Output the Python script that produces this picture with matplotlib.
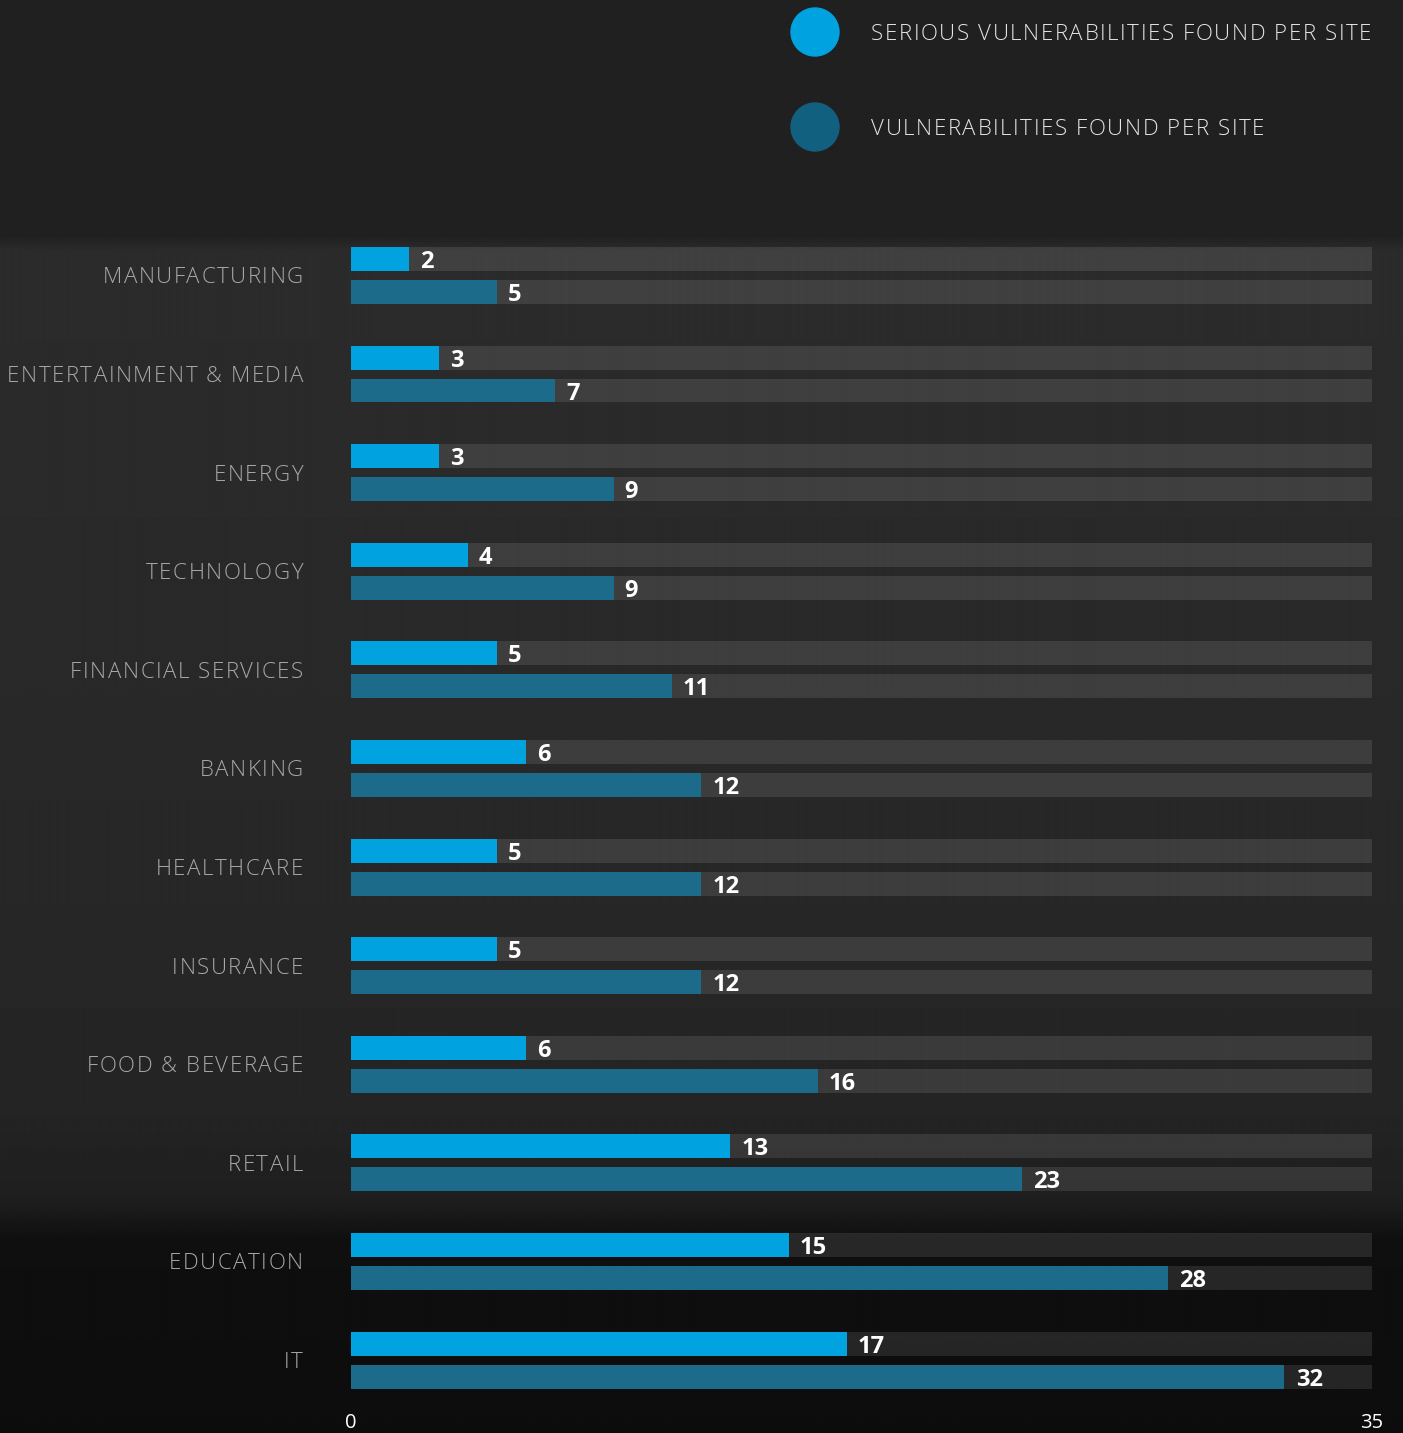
import numpy as np
import matplotlib.pyplot as plt
from matplotlib.patches import Ellipse
from matplotlib.font_manager import FontProperties, findfont
from matplotlib.ft2font import FT2Font
from matplotlib.transforms import IdentityTransform

categories = ["MANUFACTURING", "ENTERTAINMENT & MEDIA", "ENERGY", "TECHNOLOGY",
              "FINANCIAL SERVICES", "BANKING", "HEALTHCARE", "INSURANCE",
              "FOOD & BEVERAGE", "RETAIL", "EDUCATION", "IT"]
serious = [2, 3, 3, 4, 5, 6, 5, 5, 6, 13, 15, 17]
total = [5, 7, 9, 9, 11, 12, 12, 12, 16, 23, 28, 32]
xmax = 35

c_serious = "#00a2e0"
c_total = "#1c6b8b"
W, H = 1403, 1433
DPI = 100

plt.rcParams['font.family'] = ['Open Sans', 'DejaVu Sans']

fig = plt.figure(figsize=(W / DPI, H / DPI), dpi=DPI)
fig.patch.set_facecolor("#202020")


def spaced_text(x, ymid, s, size, color, track, ha="left", weight="light"):
    """Draw s one glyph at a time (pixel coords from top-left) with extra letter spacing."""
    prop = FontProperties(family="Open Sans", weight=weight, size=size)
    font = FT2Font(findfont(prop))
    font.set_size(size, DPI)
    adv = [font.load_char(ord(c)).linearHoriAdvance / 65536 for c in s]
    width = sum(adv) + track * (len(s) - 1)
    px = x - width if ha == "right" else x
    base = H - (ymid + 0.357 * size * DPI / 72)
    for c, a in zip(s, adv):
        if c != " ":
            fig.text(px, base, c, fontproperties=prop, color=color,
                     va="baseline", ha="left", transform=IdentityTransform())
        px += a + track


# dark backdrop, lighter in the middle and fading to near black at the bottom
bg = fig.add_axes([0, 0, 1, 1], zorder=-5)
rows = np.arange(H)
shade = np.interp(rows, [0, 235, 250, 700, 1100, 1200, 1240, 1433],
                  [0.125, 0.125, 0.17, 0.16, 0.145, 0.12, 0.06, 0.05])
bg.imshow(np.repeat(shade[:, None], 8, axis=1), cmap="gray", vmin=0, vmax=1,
          aspect="auto", extent=[0, 1, 0, 1], interpolation="bilinear")
bg.set_axis_off()

# main bars
top_px, bot_px = 236, 1404.5
ax = fig.add_axes([351 / W, 1 - bot_px / H, 1021 / W, (bot_px - top_px) / H])
ax.set_facecolor("none")
y = np.arange(len(categories))
off, h = 0.167, 0.243
ax.barh(y - off, [xmax] * len(y), height=h, color="white", alpha=0.1, lw=0)
ax.barh(y + off, [xmax] * len(y), height=h, color="white", alpha=0.1, lw=0)
ax.barh(y - off, serious, height=h, color=c_serious, lw=0)
ax.barh(y + off, total, height=h, color=c_total, lw=0)

for i in y:
    ax.text(serious[i] + 0.38, i - off, str(serious[i]), color="white",
            fontsize=17, fontweight="bold", va="center_baseline", ha="left")
    ax.text(total[i] + 0.38, i + off, str(total[i]), color="white",
            fontsize=17, fontweight="bold", va="center_baseline", ha="left")

group_px = (bot_px - top_px) / (11.45 + 0.4)
for i, name in enumerate(categories):
    spaced_text(303, top_px + (i + 0.4) * group_px, name, 16, "#a8a8a8",
                track=1.55, ha="right")

ax.set_xlim(0, xmax)
ax.set_ylim(11.45, -0.4)
ax.set_xticks([0, xmax])
ax.set_xticklabels(["0", "35"], color="white", fontsize=14.5)
ax.tick_params(axis="x", length=0, pad=6)
ax.set_yticks([])
for s in ax.spines.values():
    s.set_visible(False)

# legend
legend = [("SERIOUS VULNERABILITIES FOUND PER SITE", c_serious, 32),
          ("VULNERABILITIES FOUND PER SITE", "#12607f", 127)]
for label, col, ypx in legend:
    fig.patches.append(Ellipse((815 / W, 1 - ypx / H), 48 / W, 48 / H,
                               color=col, transform=fig.transFigure))
    spaced_text(871, ypx, label, 16, "#e6e6e6", track=1.6)

fig.savefig("out.png", dpi=DPI, facecolor=fig.get_facecolor())
